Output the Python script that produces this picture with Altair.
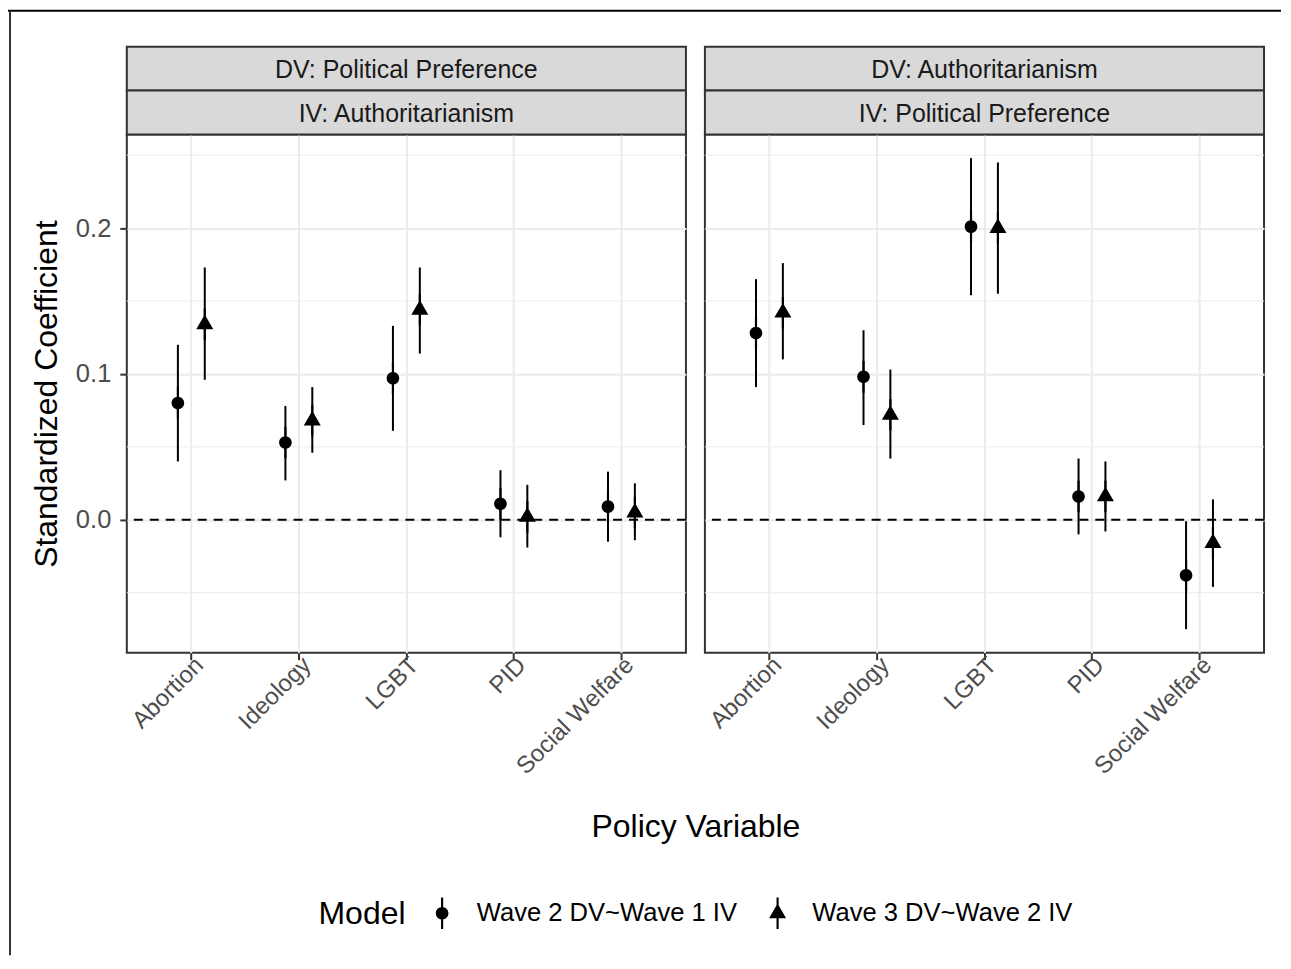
import altair as alt
import pandas as pd

FONT = "Liberation Sans"

policies = ["Abortion", "Ideology", "LGBT", "PID", "Social Welfare"]
models = ["Wave 2 DV~Wave 1 IV", "Wave 3 DV~Wave 2 IV"]
dv_labels = ["DV: Political Preference", "DV: Authoritarianism"]
iv_labels = ["IV: Authoritarianism", "IV: Political Preference"]

# Panel 1: DV Political Preference, IV Authoritarianism
p1_w2_est = [0.080, 0.053, 0.097, 0.011, 0.009]
p1_w2_lo = [0.040, 0.027, 0.061, -0.012, -0.015]
p1_w2_hi = [0.120, 0.078, 0.133, 0.034, 0.033]
p1_w3_est = [0.134, 0.068, 0.144, 0.002, 0.005]
p1_w3_lo = [0.096, 0.046, 0.114, -0.019, -0.014]
p1_w3_hi = [0.173, 0.091, 0.173, 0.024, 0.025]

# Panel 2: DV Authoritarianism, IV Political Preference
p2_w2_est = [0.128, 0.098, 0.201, 0.016, -0.038]
p2_w2_lo = [0.091, 0.065, 0.154, -0.010, -0.075]
p2_w2_hi = [0.165, 0.130, 0.248, 0.042, -0.001]
p2_w3_est = [0.142, 0.072, 0.200, 0.016, -0.016]
p2_w3_lo = [0.110, 0.042, 0.155, -0.008, -0.046]
p2_w3_hi = [0.176, 0.103, 0.245, 0.040, 0.014]

major_ticks = [0.0, 0.1, 0.2]
minor_ticks = [-0.05, 0.05, 0.15, 0.25]
zero_line = [0.0]

all_lo = p1_w2_lo + p1_w3_lo + p2_w2_lo + p2_w3_lo
all_hi = p1_w2_hi + p1_w3_hi + p2_w2_hi + p2_w3_hi
rng = max(all_hi) - min(all_lo)
y_domain = [min(all_lo) - 0.05 * rng, max(all_hi) + 0.05 * rng]

W = 560
PH = 519
SH = 44
GAP = 19

circle_path = "M1,0A1,1,0,1,1,-1,0A1,1,0,1,1,1,0Z M-0.17,-2.5L0.17,-2.5L0.17,2.5L-0.17,2.5Z"
tri_path = "M0,-1.555L1.347,0.778L-1.347,0.778Z M-0.17,-2.5L0.17,-2.5L0.17,2.5L-0.17,2.5Z"


def make_df(w2e, w2l, w2h, w3e, w3l, w3h):
    rows = []
    for i, p in enumerate(policies):
        rows.append({"policy": p, "model": models[0], "est": w2e[i], "lo": w2l[i], "hi": w2h[i]})
        rows.append({"policy": p, "model": models[1], "est": w3e[i], "lo": w3l[i], "hi": w3h[i]})
    return pd.DataFrame(rows)


def strip_layers(labels):
    out = []
    for k, lab in enumerate(labels):
        d = pd.DataFrame({"t": [lab]})
        top = -(len(labels) - k) * SH
        out.append(alt.Chart(d).mark_rect(fill="#D9D9D9", stroke="#333333", strokeWidth=2).encode(
            x=alt.value(0), x2=alt.value(W), y=alt.value(top), y2=alt.value(top + SH)
        ))
        out.append(alt.Chart(d).mark_text(
            font=FONT, fontSize=25, color="#1A1A1A", baseline="middle", align="center"
        ).encode(text="t:N", x=alt.value(W / 2), y=alt.value(top + SH / 2 + 1)))
    return out


def panel(df, labels, first):
    yscale = alt.Scale(domain=y_domain, nice=False, zero=False)
    if first:
        yaxis = alt.Axis(values=major_ticks, format=".1f", grid=True, gridColor="#EBEBEB", gridWidth=2,
                         domain=False, ticks=True, tickColor="#333333", tickWidth=2, tickSize=7,
                         labelFont=FONT, labelFontSize=25.6, labelColor="#4D4D4D", labelPadding=9,
                         titleFont=FONT, titleFontSize=32, titleFontWeight="normal", titleColor="black",
                         titlePadding=12)
        ytitle = "Standardized Coefficient"
        xtitle = "Policy Variable"
    else:
        yaxis = alt.Axis(values=major_ticks, grid=True, gridColor="#EBEBEB", gridWidth=2,
                         domain=False, ticks=False, labels=False)
        ytitle = None
        xtitle = None
    xscale = alt.Scale(domain=policies, paddingInner=0, paddingOuter=0.1)
    xaxis = alt.Axis(grid=True, gridColor="#EBEBEB", gridWidth=2, bandPosition=0.5, domain=False,
                     ticks=True, tickColor="#333333", tickWidth=2, tickSize=7,
                     labelAngle=-45, labelAlign="right", labelBaseline="top",
                     labelFont=FONT, labelFontSize=24, labelColor="#4D4D4D", labelPadding=-7,
                     titleFont=FONT, titleFontSize=32, titleFontWeight="normal", titleColor="black",
                     titleX=W + GAP / 2, titleY=174, titleAlign="center", titleBaseline="middle")
    xo = alt.XOffset("model:N", scale=alt.Scale(domain=models, paddingInner=0, paddingOuter=1))

    minor = alt.Chart(pd.DataFrame({"v": minor_ticks})).mark_rule(color="#EBEBEB", strokeWidth=1).encode(
        y=alt.Y("v:Q", scale=yscale, axis=yaxis, title=ytitle)
    )
    zero = alt.Chart(pd.DataFrame({"v": zero_line})).mark_rule(
        color="black", strokeWidth=2, strokeDash=[9, 7]
    ).encode(y=alt.Y("v:Q", scale=yscale, axis=yaxis, title=ytitle))
    base = alt.Chart(df)
    bars = base.mark_rule(color="black", strokeWidth=2).encode(
        x=alt.X("policy:N", scale=xscale, axis=xaxis, title=xtitle),
        xOffset=xo,
        y=alt.Y("lo:Q", scale=yscale, axis=yaxis, title=ytitle),
        y2="hi:Q",
    )
    pts = base.mark_point(filled=True, size=160, opacity=1, color="black", strokeWidth=0).encode(
        x=alt.X("policy:N", scale=xscale, axis=xaxis, title=xtitle),
        xOffset=xo,
        y=alt.Y("est:Q", scale=yscale, axis=yaxis, title=ytitle),
        shape=alt.Shape("model:N", scale=alt.Scale(domain=models, range=[circle_path, tri_path]),
                        legend=alt.Legend(orient="none", legendX=192, legendY=767, direction="horizontal",
                                          title="Model", titleOrient="left")),
    )
    layers = [minor, zero, bars, pts] + strip_layers(labels)
    if first:
        # thin page frame lines seen along the top and left edges of the reference
        frame_df = pd.DataFrame({"a": [0]})
        top_line = alt.Chart(frame_df).mark_rule(color="black", strokeWidth=2).encode(
            x=alt.value(-119), x2=alt.value(1156), y=alt.value(-124)
        )
        left_line = alt.Chart(frame_df).mark_rule(color="#333333", strokeWidth=2).encode(
            x=alt.value(-117), y=alt.value(-124), y2=alt.value(822)
        )
        layers += [top_line, left_line]
    return alt.layer(*layers).properties(
        width=W, height=PH,
        view=alt.ViewBackground(fill="white", stroke="#333333", strokeWidth=2),
    )


df1 = make_df(p1_w2_est, p1_w2_lo, p1_w2_hi, p1_w3_est, p1_w3_lo, p1_w3_hi)
df2 = make_df(p2_w2_est, p2_w2_lo, p2_w2_hi, p2_w3_est, p2_w3_lo, p2_w3_hi)

left = panel(df1, [dv_labels[0], iv_labels[0]], True)
right = panel(df2, [dv_labels[1], iv_labels[1]], False)

chart = alt.hconcat(left, right, spacing=GAP, bounds="flush").properties(
    padding={"left": -2, "top": 0, "right": 0, "bottom": 0},
).resolve_scale(
    x="independent", y="independent", shape="shared"
).resolve_legend(shape="shared").configure(
    font=FONT
).configure_legend(
    labelFont=FONT, labelFontSize=25.6, labelColor="black", labelLimit=600,
    titleFont=FONT, titleFontSize=32, titleFontWeight="normal", titleColor="black",
    symbolSize=160, symbolStrokeWidth=0, symbolFillColor="black", symbolOpacity=1,
    labelOffset=22, columnPadding=27, titlePadding=23, padding=0,
    titleBaseline="middle", titleAnchor="middle",
)

chart.save("out.html", embed_options={"renderer": "svg", "actions": False})
